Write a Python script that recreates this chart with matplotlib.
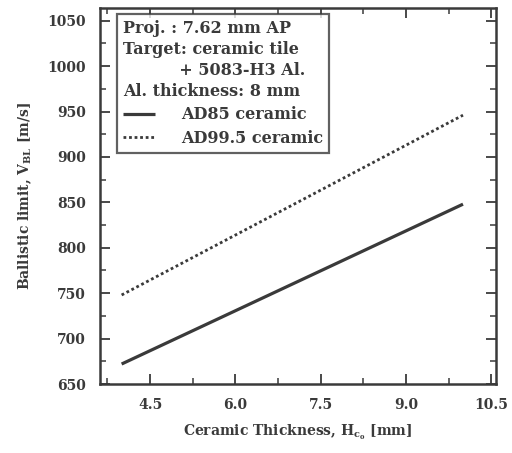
import matplotlib
matplotlib.use("Agg")
import matplotlib.pyplot as plt
from matplotlib.ticker import MultipleLocator

# Ballistic limit vs ceramic tile thickness (7.62 mm AP, ceramic + Al backing)
thickness = [4.0, 10.0]                 # mm
vbl_ad85 = [672, 848]                   # m/s
vbl_ad995 = [748, 946]                  # m/s
series_labels = ["AD85 ceramic", "AD99.5 ceramic"]
info_lines = ["Proj. : 7.62 mm AP",
              "Target: ceramic tile",
              "          + 5083-H3 Al.",
              "Al. thickness: 8 mm"]

INK = "#3a3a3a"

plt.rcParams["font.family"] = "DejaVu Serif"
plt.rcParams["font.weight"] = "bold"
plt.rcParams["axes.labelweight"] = "bold"
plt.rcParams["mathtext.fontset"] = "dejavuserif"
plt.rcParams["mathtext.default"] = "bf"
plt.rcParams["text.color"] = INK
plt.rcParams["axes.labelcolor"] = INK

fig = plt.figure(figsize=(5.12, 4.53), dpi=100)
ax = fig.add_axes([100/512, 1 - 384/453, 396/512, 376/453])

ax.plot(thickness, vbl_ad85, color=INK, lw=2.3, solid_capstyle="butt",
        label=series_labels[0])
ax.plot(thickness, vbl_ad995, color=INK, lw=2.0, linestyle=(0, (1, 1)),
        label=series_labels[1])

ax.set_xlim(3.62, 10.58)
ax.set_ylim(650, 1064)
ax.xaxis.set_major_locator(MultipleLocator(1.5))
ax.xaxis.set_minor_locator(MultipleLocator(0.75))
ax.yaxis.set_major_locator(MultipleLocator(50))
ax.yaxis.set_minor_locator(MultipleLocator(25))
ax.set_xticks([4.5, 6.0, 7.5, 9.0, 10.5])
ax.set_xticklabels(["4.5", "6.0", "7.5", "9.0", "10.5"])

ax.tick_params(which="both", direction="in", top=True, right=True,
               color=INK, labelcolor=INK, labelsize=10)
ax.tick_params(which="major", length=7, width=1.3, pad=10)
ax.tick_params(which="minor", length=4, width=1.1)
for s in ax.spines.values():
    s.set_linewidth(1.8)
    s.set_color(INK)

ax.set_xlabel("Ceramic Thickness, $H_{c_o}$ [mm]", fontsize=10,
              fontweight="bold", labelpad=8)
ax.set_ylabel("Ballistic limit, $V_{BL}$ [m/s]", fontsize=10,
              fontweight="bold", labelpad=10)

leg = ax.legend(title="\n".join(info_lines), loc="upper left",
                bbox_to_anchor=(0.043, 0.984), borderaxespad=0,
                fancybox=False, frameon=True, edgecolor=INK,
                prop={"size": 11.5, "weight": "bold"},
                title_fontproperties={"size": 11.5, "weight": "bold"},
                alignment="left",
                handlelength=2.0, handletextpad=1.6, labelspacing=0.4,
                borderpad=0.4)
leg.get_frame().set_linewidth(1.6)
leg.get_title().set_linespacing(1.3)

fig.savefig("out.png", dpi=100, facecolor="white")
